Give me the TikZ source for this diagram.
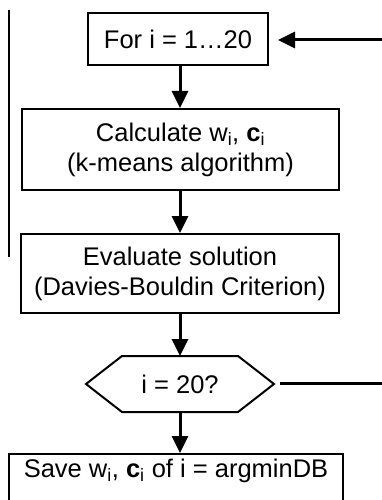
\documentclass[tikz,border=0pt]{standalone}
\usepackage{fontspec}
\setmainfont{Liberation Sans}
\usetikzlibrary{arrows.meta,calc}
\begin{document}
\begin{tikzpicture}[x=1pt,y=-1pt,
  box/.style={draw=black,line width=2pt,align=center,inner sep=0pt,
    font=\fontsize{25.5}{30}\selectfont},
  flow/.style={line width=3pt,-{Triangle[length=17pt,width=16pt]}},
  plain/.style={line width=3pt}]
\useasboundingbox (0,0) rectangle (382,500);
\clip (0,0) rectangle (382,500);
\fill[white] (0,0) rectangle (382,500);
% left margin line
\coordinate (l1) at (9,10);
\coordinate (l2) at (9,257);
\draw[line width=1.5pt] (l1) -- (l2);
% nodes
\node[box,minimum width=180pt,minimum height=52pt] (for) at (178,39) {For i = 1…20};
\node[box,minimum width=317pt,minimum height=81pt] (calc) at (180.5,149.5)
  {Calculate w\textsubscript{i}, \textbf{c}\textsubscript{i}\\(k-means algorithm)};
\node[box,minimum width=318pt,minimum height=79pt] (eval) at (180,273.5)
  {Evaluate solution\\(Davies-Bouldin Criterion)};
\node[box,draw=none,minimum width=186pt,minimum height=54pt] (dec) at (180,384) {i = 20?};
\draw[line width=2pt,line join=miter] (dec.west) -- ($(dec.north west)+(36,0)$) -- ($(dec.north east)+(-36,0)$)
  -- (dec.east) -- ($(dec.south east)+(-36,0)$) -- ($(dec.south west)+(36,0)$) -- cycle;
\node[box,anchor=north,minimum width=334pt,inner ysep=5pt,text depth=40pt] (save) at (176,453)
  {Save w\textsubscript{i}, \textbf{c}\textsubscript{i} of i = argminDB};
% connectors
\draw[flow] (for.south -| 180,0) -- (calc.north -| 180,0);
\draw[flow] (calc.south -| 180,0) -- (eval.north -| 180,0);
\draw[flow] (eval.south -| dec.north) -- (dec.north);
\draw[flow] (dec.south) -- (save.north -| dec.south);
\coordinate (rin) at (384,40);
\coordinate (rout) at (384,383);
\draw[flow,shorten >=9pt] (rin) -- (for.east |- rin);
\draw[plain,shorten <=6pt] (dec.east |- rout) -- (rout);
\end{tikzpicture}
\end{document}
